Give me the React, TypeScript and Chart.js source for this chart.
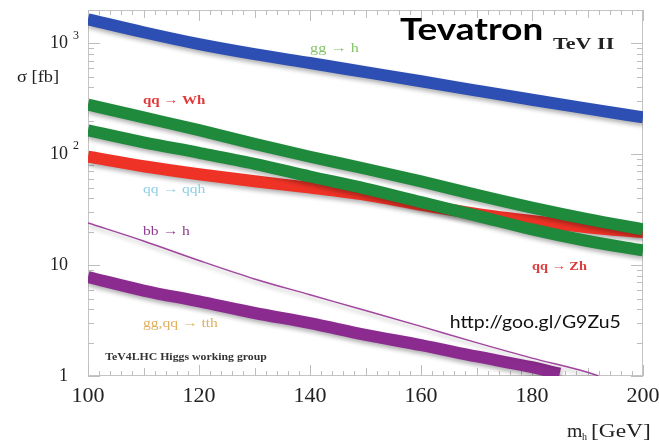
import React, { useEffect, useRef } from "react";
import { Chart, registerables } from "chart.js";

Chart.register(...registerables);

// ---- data ----
const massGrid = [100, 110, 120, 130, 140, 150, 160, 170, 180, 190, 200];
const ggH = [1650, 1260, 985, 800, 665, 550, 455, 375, 310, 258, 215];
const qqWH = [280, 215, 165, 124, 95, 74, 57, 43, 33, 26, 21];
const qqZH = [164, 128, 103, 82, 63, 49, 37, 28, 21, 16.5, 13.6];
const qqQQH = [95, 78, 66, 57, 50, 43, 35, 29, 25, 22, 19.8];
const bbHMass = [100, 110, 120, 130, 140, 150, 160, 170, 180, 190, 192];
const bbH = [24, 16.5, 11, 7.5, 5.4, 3.9, 2.8, 2.0, 1.45, 1.08, 1.0];
const ttHMass = [100, 110, 120, 130, 140, 150, 160, 170, 180, 185];
const ttH = [7.8, 5.9, 4.7, 3.7, 3.0, 2.35, 1.9, 1.5, 1.2, 1.05];

const xTicks = [100, 120, 140, 160, 180, 200];
const xTickLabels = ["100", "120", "140", "160", "180", "200"];
const yTicks = [1, 10, 100, 1000];
const yTickBase = ["1", "10", "10", "10"];
const yTickExp = ["", "", "2", "3"];

// annotation labels (data coordinates); sx = horizontal stretch
const annLabels = [
  { text: "gg \u2192 h", m: 140, v: 889, color: "#86c46a", font: "13px 'Liberation Serif'", sx: 1.25 },
  { text: "qq \u2192 Wh", m: 109.9, v: 302, color: "#e0393b", font: "bold 13px 'Liberation Serif'", sx: 1.15 },
  { text: "qq \u2192 qqh", m: 109.9, v: 48.5, color: "#8fd0e6", font: "13px 'Liberation Serif'", sx: 1.2 },
  { text: "bb \u2192 h", m: 109.9, v: 19.9, color: "#8e3a8e", font: "13px 'Liberation Serif'", sx: 1.2 },
  { text: "gg,qq \u2192 tth", m: 109.9, v: 3.0, color: "#e0b060", font: "13px 'Liberation Serif'", sx: 1.2 },
  { text: "qq \u2192 Zh", m: 180, v: 9.6, color: "#e0393b", font: "bold 13px 'Liberation Serif'", sx: 1.1 },
  { text: "TeV4LHC Higgs working group", m: 103.1, v: 1.48, color: "#333333", font: "bold 10px 'Liberation Serif'", sx: 1.18 },
  { text: "http://goo.gl/G9Zu5", m: 165.2, v: 3.07, color: "#111111", font: "18px 'Lato'", sx: 1.08 },
  { text: "Tevatron", m: 156.2, v: 1320, color: "#000000", font: "bold 31px 'Lato'", sx: 1.19 },
  { text: "TeV II", m: 183.8, v: 966, color: "#222222", font: "bold 17px 'Liberation Serif'", sx: 1.3 },
];

const pts = (xs: number[], ys: number[]) => xs.map((x, i) => ({ x, y: ys[i] }));

function stretchText(ctx: any, text: string, x: number, y: number, sx: number) {
  ctx.save();
  ctx.translate(x, y);
  ctx.scale(sx, 1);
  ctx.fillText(text, 0, 0);
  ctx.restore();
}

const framePlugin = {
  id: "frameTicks",
  beforeDatasetsDraw(chart: any) {
    const { ctx, chartArea: a, scales } = chart;
    const xs = scales.x;
    const ys = scales.y;
    ctx.save();
    ctx.strokeStyle = "#c4c4c4";
    ctx.lineWidth = 1;
    ctx.strokeRect(a.left + 0.5, a.top + 0.5, a.right - a.left - 1, a.bottom - a.top - 1);
    ctx.strokeStyle = "#bdbdbd";
    ctx.beginPath();
    for (let m = 100; m <= 200; m += 2) {
      const px = Math.round(xs.getPixelForValue(m)) + 0.5;
      const len = m % 20 === 0 ? 11 : m % 10 === 0 ? 8 : 5;
      ctx.moveTo(px, a.bottom);
      ctx.lineTo(px, a.bottom - len);
      ctx.moveTo(px, a.top);
      ctx.lineTo(px, a.top + len);
    }
    for (let d = 1; d <= 1000; d *= 10) {
      for (let k = 1; k <= 9; k++) {
        const v = d * k;
        if (v > ys.max) break;
        const py = Math.round(ys.getPixelForValue(v)) + 0.5;
        const len = k === 1 ? 12 : 6;
        ctx.moveTo(a.left, py);
        ctx.lineTo(a.left + len, py);
        ctx.moveTo(a.right, py);
        ctx.lineTo(a.right - len, py);
      }
    }
    ctx.stroke();
    ctx.restore();
  },
  afterDraw(chart: any) {
    const { ctx, chartArea: a, scales } = chart;
    const xs = scales.x;
    const ys = scales.y;
    ctx.save();
    ctx.fillStyle = "#222";
    // x tick labels
    ctx.font = "20px 'Liberation Serif'";
    ctx.textAlign = "center";
    ctx.textBaseline = "middle";
    xTicks.forEach((t, i) => {
      stretchText(ctx, xTickLabels[i], xs.getPixelForValue(t), a.bottom + 21, 1.1);
    });
    // y tick labels
    yTicks.forEach((t, i) => {
      const py = ys.getPixelForValue(t);
      ctx.font = "18px 'Liberation Serif'";
      ctx.textAlign = "right";
      ctx.textBaseline = "middle";
      ctx.fillText(yTickBase[i], a.left - 20, py);
      if (yTickExp[i]) {
        ctx.font = "12px 'Liberation Serif'";
        ctx.textAlign = "left";
        ctx.fillText(yTickExp[i], a.left - 15, py - 8);
      }
    });
    // axis titles
    ctx.textAlign = "left";
    ctx.textBaseline = "middle";
    ctx.font = "16px 'Liberation Serif'";
    stretchText(ctx, "\u03c3 [fb]", 17, 78, 1.15);
    ctx.font = "18px 'Liberation Serif'";
    stretchText(ctx, "m", 567, 432, 1.1);
    ctx.font = "10px 'Liberation Serif'";
    ctx.fillText("h", 582, 437);
    ctx.font = "18px 'Liberation Serif'";
    stretchText(ctx, "[GeV]", 591, 432, 1.3);
    // annotations
    annLabels.forEach((l) => {
      ctx.font = l.font;
      ctx.fillStyle = l.color;
      ctx.textAlign = "left";
      ctx.textBaseline = "middle";
      stretchText(ctx, l.text, xs.getPixelForValue(l.m), ys.getPixelForValue(l.v), l.sx);
    });
    ctx.restore();
  },
};

const shadowPlugin = {
  id: "lineShadow",
  beforeDatasetDraw(chart: any) {
    const ctx = chart.ctx;
    ctx.save();
    ctx.shadowColor = "rgba(0,0,0,0.3)";
    ctx.shadowBlur = 4;
    ctx.shadowOffsetX = 1;
    ctx.shadowOffsetY = 3;
  },
  afterDatasetDraw(chart: any) {
    chart.ctx.restore();
  },
};

export default function App() {
  const ref = useRef<HTMLCanvasElement>(null);
  useEffect(() => {
    if (!ref.current) return;
    const thick = (label: string, data: any[], color: string) => ({
      label,
      data,
      borderColor: color,
      backgroundColor: color,
      borderWidth: 12,
      borderCapStyle: "butt" as const,
      pointRadius: 0,
      cubicInterpolationMode: "monotone" as const,
      fill: false,
    });
    const chart = new Chart(ref.current, {
      type: "line",
      data: {
        datasets: [
          thick("gg \u2192 h", pts(massGrid, ggH), "#2d4fb3"),
          thick("qq \u2192 Wh", pts(massGrid, qqWH), "#1f8a3c"),
          thick("qq \u2192 Zh", pts(massGrid, qqZH), "#1f8a3c"),
          thick("qq \u2192 qqh", pts(massGrid, qqQQH), "#ee3226"),
          {
            label: "bb \u2192 h",
            data: pts(bbHMass, bbH),
            borderColor: "#a0449e",
            borderWidth: 1.4,
            pointRadius: 0,
            cubicInterpolationMode: "monotone" as const,
            fill: false,
          },
          thick("gg,qq \u2192 tth", pts(ttHMass, ttH), "#8c2b8f"),
        ],
      },
      options: {
        animation: false,
        responsive: false,
        layout: { padding: { left: 88, right: 16, top: 10, bottom: 70 } },
        plugins: { legend: { display: false }, tooltip: { enabled: false } },
        scales: {
          x: { type: "linear", min: 100, max: 200, display: false },
          y: { type: "logarithmic", min: 1, max: 2000, display: false },
        },
      },
      plugins: [framePlugin, shadowPlugin],
    });
    return () => chart.destroy();
  }, []);
  return (
    <div style={{ position: "absolute", left: 0, top: 0, width: 659, height: 446, background: "#fff" }}>
      <canvas ref={ref} width={659} height={446} />
    </div>
  );
}
